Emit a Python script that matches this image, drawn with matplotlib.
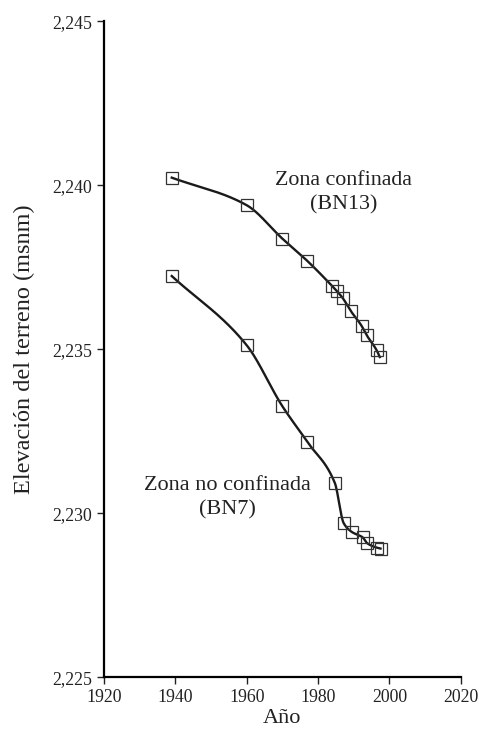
import numpy as np
import matplotlib.pyplot as plt
from matplotlib.ticker import FuncFormatter

plt.rcParams['font.family'] = ['Liberation Serif', 'DejaVu Serif']

# BN13 - zona confinada
anio_bn13 = [1939, 1960, 1970, 1977, 1984, 1985.2, 1986.9, 1989.2, 1992.2, 1993.6, 1996.4, 1997.3]
elev_bn13 = [2240.23, 2239.39, 2238.37, 2237.69, 2236.92, 2236.78, 2236.56, 2236.16, 2235.71, 2235.43, 2234.97, 2234.76]

# BN7 - zona no confinada
anio_bn7 = [1939, 1960, 1970, 1977, 1984.7, 1987.2, 1989.4, 1992.5, 1993.8, 1996.4, 1997.5]
elev_bn7 = [2237.23, 2235.12, 2233.26, 2232.17, 2230.92, 2229.69, 2229.43, 2229.26, 2229.08, 2228.95, 2228.92]


def pchip(x, y, n=300):
    # interpolacion cubica monotona para la curva suave
    x = np.asarray(x, float)
    y = np.asarray(y, float)
    h = np.diff(x)
    d = np.diff(y) / h
    m = np.zeros_like(y)
    for k in range(1, len(x) - 1):
        if d[k - 1] * d[k] > 0:
            w1 = 2 * h[k] + h[k - 1]
            w2 = h[k] + 2 * h[k - 1]
            m[k] = (w1 + w2) / (w1 / d[k - 1] + w2 / d[k])
    m[0] = d[0]
    m[-1] = d[-1]
    xs = np.linspace(x[0], x[-1], n)
    idx = np.clip(np.searchsorted(x, xs) - 1, 0, len(h) - 1)
    t = (xs - x[idx]) / h[idx]
    h00 = 2 * t**3 - 3 * t**2 + 1
    h10 = t**3 - 2 * t**2 + t
    h01 = -2 * t**3 + 3 * t**2
    h11 = t**3 - t**2
    ys = h00 * y[idx] + h10 * h[idx] * m[idx] + h01 * y[idx + 1] + h11 * h[idx] * m[idx + 1]
    return xs, ys


fig = plt.figure(figsize=(4.79, 7.32), dpi=100)
ax = fig.add_axes([0.217, 0.075, 0.745, 0.896])

for xx, yy in [(anio_bn13, elev_bn13), (anio_bn7, elev_bn7)]:
    xs, ys = pchip(xx, yy)
    ax.plot(xs, ys, color='#1a1a1a', lw=1.7, zorder=2)
    ax.plot(xx, yy, ls='none', marker='s', ms=8, mfc='none', mec='#333333', mew=0.9, zorder=3)

ax.text(1987.1, 2239.77, 'Zona confinada\n(BN13)', ha='center', va='center',
        fontsize=15.8, color='#222222', linespacing=1.4)
ax.text(1954.7, 2230.47, 'Zona no confinada\n(BN7)', ha='center', va='center',
        fontsize=16, color='#222222', linespacing=1.4)

ax.set_xlim(1920, 2020)
ax.set_ylim(2225, 2245)
ax.set_xticks(np.arange(1920, 2021, 20))
ax.set_yticks(np.arange(2225, 2246, 5))
ax.yaxis.set_major_formatter(FuncFormatter(lambda v, p: f'{int(v):,}'))

for s in ['top', 'right']:
    ax.spines[s].set_visible(False)
for s in ['left', 'bottom']:
    ax.spines[s].set_linewidth(1.6)
ax.tick_params(direction='out', length=5, width=1, labelsize=12.8, colors='#222222')

ax.set_xlabel('Año', fontsize=16, color='#222222', labelpad=2)
ax.set_ylabel('Elevación del terreno (msnm)', fontsize=17.5, color='#222222', labelpad=12)

fig.savefig('out.png', dpi=100)
